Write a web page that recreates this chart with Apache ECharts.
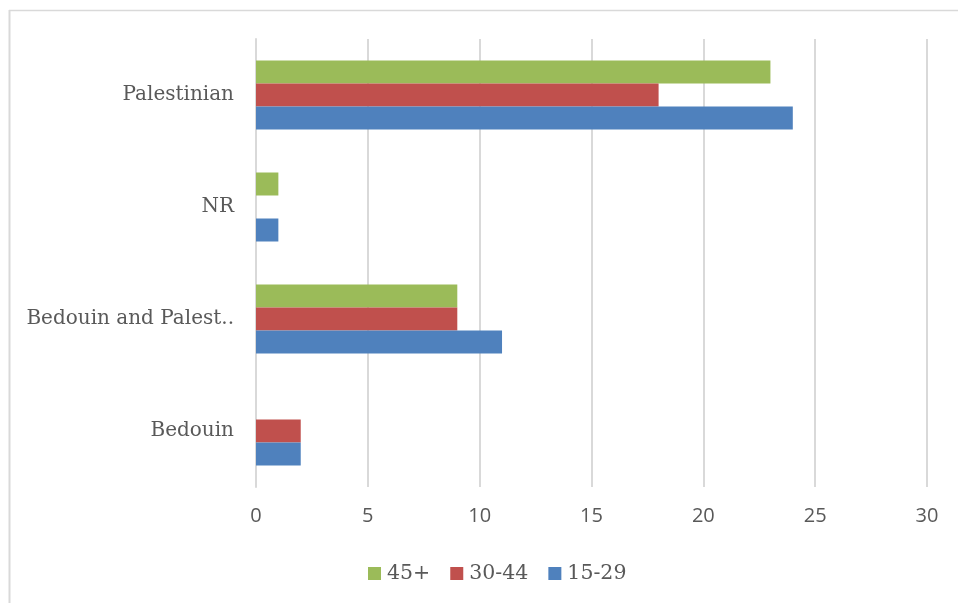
<!DOCTYPE html>
<html>
<head>
<meta charset="utf-8">
<script src="https://cdn.jsdelivr.net/npm/echarts@6/dist/echarts.min.js"></script>
<style>html,body{margin:0;padding:0;background:#fff;}#c{width:958px;height:603px;}</style>
</head>
<body>
<div id="c"></div>
<script>
const categories = ['Bedouin', 'Bedouin and Palest..', 'NR', 'Palestinian'];
const s45 = [0, 9, 1, 23];
const s30 = [2, 9, 0, 18];
const s15 = [2, 11, 1, 24];
const seriesNames = ['45+', '30-44', '15-29'];
const xTicks = [0, 5, 10, 15, 20, 25, 30];

const chart = echarts.init(document.getElementById('c'), null, {renderer: 'canvas'});
const colors = ['#9BBB59', '#C0504D', '#4F81BD'];
const data = [s45, s30, s15];
chart.setOption({
  animation: false,
  backgroundColor: '#fff',
  grid: {left: 256, right: 31, top: 39, bottom: 116, containLabel: false},
  legend: {
    data: seriesNames,
    left: 363, top: 558,
    itemWidth: 13, itemHeight: 13, itemGap: 20,
    icon: 'rect',
    textStyle: {fontFamily: 'DejaVu Serif', fontSize: 20.5, color: '#595959', padding: [0, 0, 0, 1]}
  },
  xAxis: {
    type: 'value', min: xTicks[0], max: xTicks[xTicks.length - 1], interval: 5,
    axisLine: {show: false}, axisTick: {show: false},
    splitLine: {lineStyle: {color: '#D9D9D9', width: 2}},
    axisLabel: {fontFamily: 'Open Sans', fontSize: 20, color: '#595959', margin: 19}
  },
  yAxis: {
    type: 'category', data: categories,
    axisLine: {lineStyle: {color: '#D9D9D9', width: 2}},
    axisTick: {show: false},
    axisLabel: {fontFamily: 'DejaVu Serif', fontSize: 20, color: '#595959', margin: 22, lineHeight: 24, padding: [4, 0, 0, 0]}
  },
  graphic: [
    {type: 'line', shape: {x1: 9.5, y1: 10, x2: 9.5, y2: 603}, style: {stroke: '#D9D9D9', lineWidth: 2}},
    {type: 'line', shape: {x1: 9, y1: 10.5, x2: 958, y2: 10.5}, style: {stroke: '#D9D9D9', lineWidth: 1.3}}
  ],
  series: seriesNames.map((n, i) => ({
    name: n, type: 'bar', data: data[i], barWidth: 23, barGap: '0%',
    itemStyle: {color: colors[i]}
  }))
});
</script>
</body>
</html>
